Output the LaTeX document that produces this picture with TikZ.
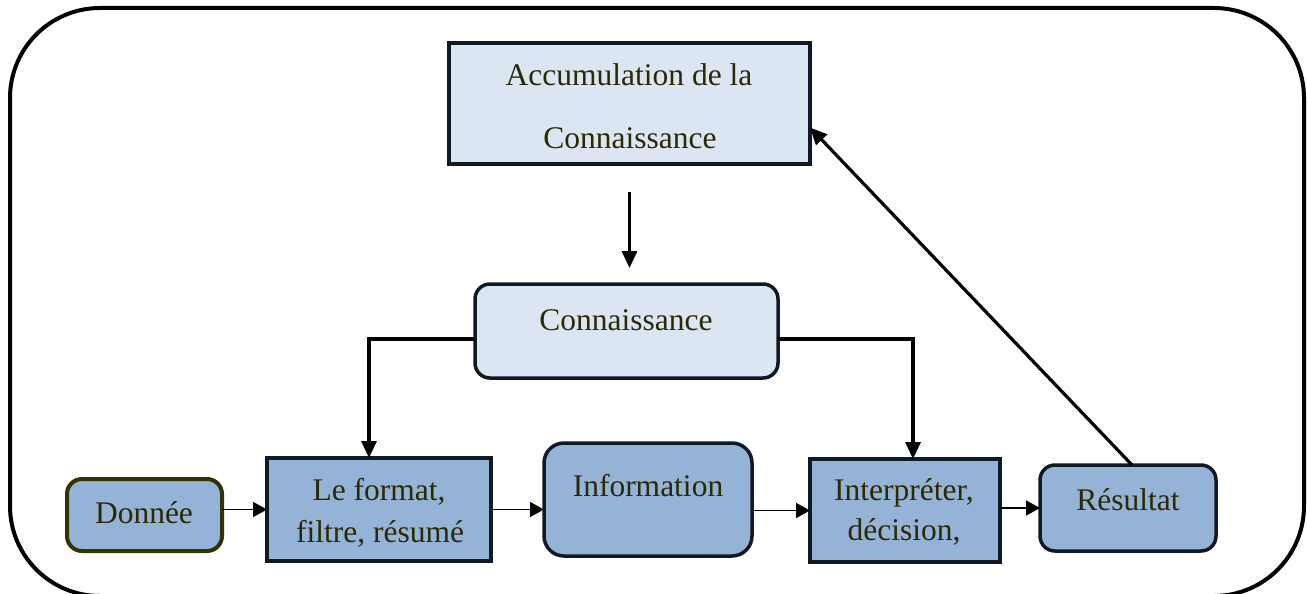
\documentclass[tikz,border=0pt]{standalone}
\usepackage{fontspec}
\setmainfont{Liberation Serif}
\usetikzlibrary{arrows.meta}

\definecolor{paleblue}{HTML}{DCE6F2}
\definecolor{midblue}{HTML}{95B3D7}
\definecolor{boxline}{HTML}{111A24}
\definecolor{oliveline}{HTML}{333300}
\definecolor{labeltext}{HTML}{2A2A05}

\tikzset{
  box/.style={draw=boxline, line width=3.5pt, inner sep=0pt, outer sep=0pt},
  roundbox/.style={box, rounded corners=15pt},
  lbl/.style={anchor=base, inner sep=0pt, outer sep=0pt, text=labeltext,
              font=\fontsize{31.5}{38}\selectfont},
  thick link/.style={line width=3.2pt, -{Triangle[length=17pt,width=15pt]}},
  thin link/.style={line width=1.5pt, -{Triangle[length=14pt,width=15pt]}},
}

\begin{document}
\begin{tikzpicture}[x=1pt,y=-1pt]
  \useasboundingbox (0,0) rectangle (1307,594);

  % outer rounded frame
  \draw[line width=4pt, rounded corners=90pt] (10,8) rectangle (1304,596);

  % boxes
  \node[box, fill=paleblue, minimum width=361pt, minimum height=121pt] (accum) at (629.5,103.5) {};
  \node[roundbox, fill=paleblue, minimum width=303pt, minimum height=94pt] (conn) at (626.5,331) {};
  \node[roundbox, fill=midblue, draw=oliveline, line width=4pt, minimum width=155pt, minimum height=72pt] (donnee) at (144.5,515) {};
  \node[box, fill=midblue, minimum width=224pt, minimum height=103pt] (fmt) at (379,509.5) {};
  \node[roundbox, fill=midblue, rounded corners=20pt, minimum width=208pt, minimum height=113pt] (info) at (648,499.5) {};
  \node[box, fill=midblue, minimum width=190pt, minimum height=103pt] (interp) at (905,510.5) {};
  \node[roundbox, fill=midblue, minimum width=176pt, minimum height=86pt] (res) at (1128,508) {};

  % labels
  \node[lbl] (accumA) at (629,85) {Accumulation de la};
  \node[lbl] (accumB) at (630,148) {Connaissance};
  \node[lbl] (connT) at (626,330) {Connaissance};
  \node[lbl] (donneeT) at (144,523) {Donnée};
  \node[lbl] (fmtA) at (379,500) {Le format,};
  \node[lbl] (fmtB) at (380,542) {filtre, résumé};
  \node[lbl] (infoT) at (648,496) {Information};
  \node[lbl] (interpA) at (904,500) {Interpréter,};
  \node[lbl] (interpB) at (904,540) {décision,};
  \node[lbl] (resT) at (1128,510) {Résultat};

  % knowledge flow
  \draw[thick link, shorten <=28pt, shorten >=16pt] (accum.south) -- (accum.south |- conn.north);
  \draw[thick link] ([yshift=-8pt]conn.west) -| ([xshift=-10pt]fmt.north);
  \draw[thick link] ([yshift=-8pt]conn.east) -| ([xshift=8pt]interp.north);
  \draw[thick link] ([xshift=4pt]res.north) -- ([yshift=-24pt]accum.east);

  % processing chain
  \draw[thin link] (donnee.east |- fmt.west) -- (fmt.west);
  \draw[thin link] (fmt.east) -- (info.west |- fmt.east);
  \draw[thin link] (info.east |- interp.west) -- (interp.west);
  \draw[thin link] (interp.east |- res.west) -- (res.west);
\end{tikzpicture}
\end{document}
